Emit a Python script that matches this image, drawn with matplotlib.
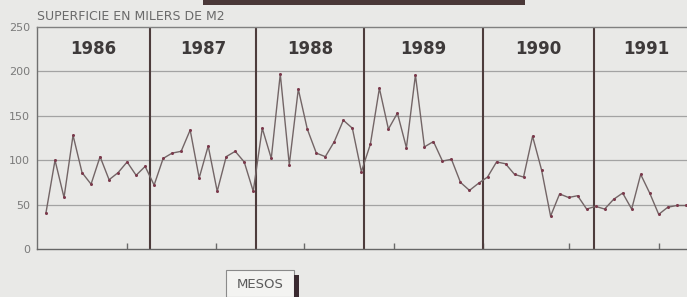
import numpy as np
import matplotlib
matplotlib.use("Agg")
import matplotlib.pyplot as plt
from matplotlib.patches import Rectangle

# superficie mensual (milers de m2), gener 1986 - desembre 1991
v1986 = [41, 100, 58, 128, 86, 73, 104, 78, 86, 98, 83, 93]
v1987 = [72, 102, 108, 110, 134, 80, 116, 65, 104, 110, 98, 65]
v1988 = [136, 102, 197, 95, 180, 135, 108, 104, 121, 145, 136, 87]
v1989 = [118, 181, 135, 153, 114, 196, 115, 121, 99, 101, 75, 66]
v1990 = [74, 81, 98, 96, 84, 81, 127, 89, 37, 62, 58, 60]
v1991 = [45, 48, 45, 56, 63, 45, 84, 63, 39, 47, 49, 49]
years = ["1986", "1987", "1988", "1989", "1990", "1991"]
yticks = [0, 50, 100, 150, 200, 250]

values = np.array(v1986 + v1987 + v1988 + v1989 + v1990 + v1991)
months = np.arange(len(values))

# where the hand-drawn year dividers sit (in month units)
bounds = [-1.0, 11.54, 23.31, 35.29, 48.5, 60.82, 72.4]

bg = "#e9e9e7"
fig = plt.figure(figsize=(6.87, 2.97), dpi=100, facecolor=bg)
ax = fig.add_axes([37/687, 1-249/297, 650/687, 222/297])
ax.set_facecolor(bg)

ax.set_xlim(-1.0, 71.14)
ax.set_ylim(0, 250)

for g in [50, 100, 150, 200]:
    ax.axhline(g, color="#a3a3a3", lw=0.9, zorder=1)

for b in bounds[1:-1]:
    ax.axvline(b, color="#4d3c3c", lw=1.5, zorder=2)

ax.plot(months, values, color="#736566", lw=1.0, zorder=3)
ax.plot(months, values, "o", ms=2.2, color="#7b3a4c", mec="none", zorder=4)

for i, yr in enumerate(years):
    cx = (bounds[i] + bounds[i+1]) / 2
    ax.text(cx, 225, yr, ha="center", va="center", fontsize=12,
            fontweight="bold", color="#3e3a3a", family="DejaVu Sans")

ax.set_yticks(yticks)
ax.set_yticklabels([str(t) for t in yticks], fontsize=8, color="#7a7a7a")
ax.tick_params(axis="y", length=0, pad=5)
ax.set_xticks([9, 18.9, 28.6, 38.6, 48.5, 58, 68])
ax.set_xticklabels([])
ax.tick_params(axis="x", direction="in", length=4, width=1, color="#6a6a6a")

ax.spines["right"].set_visible(False)
ax.spines["top"].set_color("#808080")
ax.spines["left"].set_color("#707070")
ax.spines["bottom"].set_color("#666666")
for s in ["top", "left", "bottom"]:
    ax.spines[s].set_linewidth(1.0)

fig.text(37/687, 1-16/297, "SUPERFICIE EN MILERS DE M2", fontsize=9,
         color="#6a6a6a", ha="left", va="center")

# box "MESOS" at the bottom, with dark shadow
fig.patches.append(Rectangle((226/687, 0), 68/687, 27/297, transform=fig.transFigure,
                             facecolor="#f3f3f1", edgecolor="#8a8a8a", lw=0.8))
fig.patches.append(Rectangle((294/687, 0), 5/687, 22/297, transform=fig.transFigure,
                             facecolor="#3a2a30", edgecolor="none"))
fig.text(260/687, 1-284/297, "MESOS", fontsize=9.5, color="#5a5a5a",
         ha="center", va="center")

# dark bar at the top (bottom of the heading box)
fig.patches.append(Rectangle((203/687, 1-5/297), 322/687, 5/297, transform=fig.transFigure,
                             facecolor="#4a3838", edgecolor="none"))

fig.savefig("out.png", dpi=100, facecolor=bg)
